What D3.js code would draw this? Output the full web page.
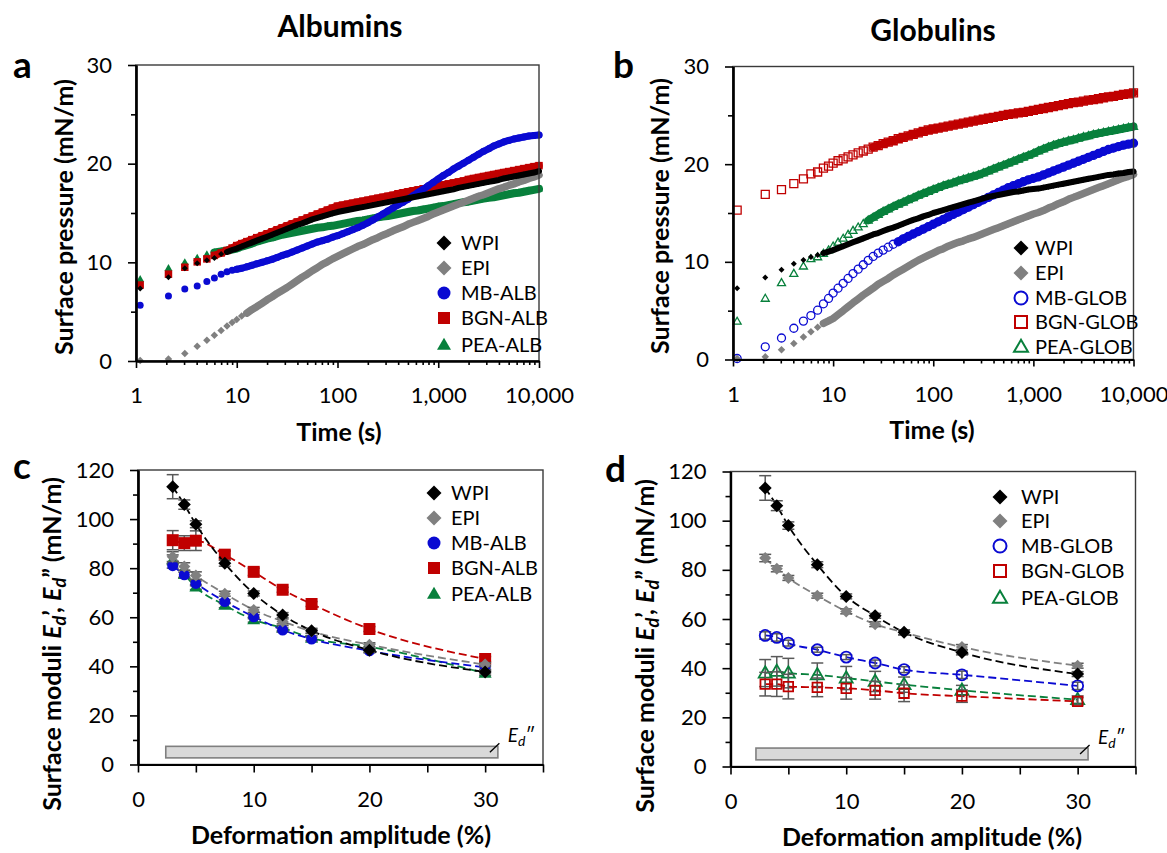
<!DOCTYPE html>
<html>
<head>
<meta charset="utf-8">
<script src="https://cdn.jsdelivr.net/npm/d3@7"></script>
<style>
  body { margin: 0; background: #fff; }
</style>
</head>
<body>
<svg id="fig" width="1167" height="853"></svg>
<script>
// ---- data ----

// adsorption time (s), shared by all runs in a and b
const timeS = [1.1, 2.1, 3.05, 4.05, 5.05, 6, 7, 8, 9,
  10, 11.2, 12.6, 14.1, 15.8, 17.8, 20, 22.4, 25.1, 28.2,
  31.6, 35.5, 39.8, 44.7, 50.1, 56.2, 63.1, 70.8, 79.4, 89.1,
  100, 112, 126, 141, 158, 178, 200, 224, 251, 282,
  316, 355, 398, 447, 501, 562, 631, 708, 794, 891,
  1000, 1122, 1259, 1413, 1585, 1778, 1995, 2239, 2512, 2818,
  3162, 3548, 3981, 4467, 5012, 5623, 6310, 7079, 7943, 8913, 10000];

// a: albumins, surface pressure (mN/m)
const wpiA = [7.35, 8.5, 9.4, 9.9, 10.2, 10.45, 10.85, 11.05, 11.25,
  11.4, 11.6, 11.8, 12.0, 12.2, 12.4, 12.6, 12.8, 13.0, 13.2,
  13.4, 13.6, 13.8, 13.95, 14.15, 14.35, 14.5, 14.65, 14.8, 14.95,
  15.1, 15.2, 15.3, 15.4, 15.5, 15.6, 15.7, 15.8, 15.9, 16.0,
  16.1, 16.2, 16.3, 16.4, 16.5, 16.6, 16.7, 16.8, 16.9, 17.0,
  17.1, 17.2, 17.3, 17.4, 17.55, 17.65, 17.75, 17.85, 17.95, 18.05,
  18.15, 18.25, 18.35, 18.5, 18.6, 18.7, 18.8, 18.9, 19.0, 19.1, 19.25];
const epiA = [0.05, 0.2, 0.75, 1.5, 2.1, 2.6, 3.1, 3.55, 3.9,
  4.2, 4.55, 4.85, 5.2, 5.5, 5.85, 6.2, 6.5, 6.85, 7.15,
  7.45, 7.8, 8.15, 8.5, 8.8, 9.15, 9.45, 9.8, 10.05, 10.35,
  10.6, 10.85, 11.1, 11.35, 11.6, 11.8, 12.05, 12.3, 12.5, 12.75,
  12.95, 13.2, 13.4, 13.6, 13.85, 14.05, 14.25, 14.45, 14.65, 14.9,
  15.1, 15.3, 15.5, 15.7, 15.9, 16.1, 16.3, 16.5, 16.7, 16.85,
  17.05, 17.25, 17.45, 17.6, 17.8, 17.95, 18.15, 18.3, 18.5, 18.65, 18.85];
const mbAlb = [5.65, 6.6, 7.3, 7.6, 8.05, 8.4, 8.8, 9.05, 9.2,
  9.3, 9.4, 9.55, 9.7, 9.85, 10.0, 10.15, 10.3, 10.5, 10.7,
  10.85, 11.05, 11.25, 11.45, 11.65, 11.85, 12.05, 12.2, 12.35, 12.55,
  12.7, 12.9, 13.1, 13.3, 13.5, 13.75, 14.0, 14.3, 14.6, 14.9,
  15.2, 15.5, 15.8, 16.1, 16.4, 16.75, 17.1, 17.4, 17.75, 18.1,
  18.45, 18.8, 19.1, 19.45, 19.75, 20.05, 20.35, 20.65, 20.95, 21.25,
  21.5, 21.8, 22.0, 22.2, 22.35, 22.5, 22.6, 22.7, 22.8, 22.85, 22.9];
const bgnAlb = [7.7, 8.8, 9.5, 10.05, 10.35, 10.7, 10.95, 11.2, 11.45,
  11.7, 11.9, 12.1, 12.3, 12.5, 12.7, 12.9, 13.1, 13.3, 13.5,
  13.7, 13.9, 14.1, 14.3, 14.5, 14.7, 14.9, 15.1, 15.3, 15.5,
  15.7, 15.8, 15.9, 16.0, 16.1, 16.2, 16.3, 16.4, 16.5, 16.6,
  16.7, 16.8, 16.95, 17.05, 17.15, 17.25, 17.35, 17.45, 17.55, 17.65,
  17.75, 17.85, 17.95, 18.05, 18.15, 18.25, 18.4, 18.5, 18.6, 18.7,
  18.8, 18.9, 19.0, 19.1, 19.2, 19.3, 19.4, 19.5, 19.6, 19.7, 19.8];
const peaAlb = [8.3, 9.4, 10.0, 10.45, 10.8, 11.0, 11.1, 11.2, 11.3,
  11.4, 11.6, 11.75, 11.9, 12.1, 12.25, 12.4, 12.5, 12.65, 12.8,
  12.9, 13.0, 13.1, 13.2, 13.3, 13.4, 13.5, 13.55, 13.65, 13.7,
  13.8, 13.9, 14.0, 14.1, 14.2, 14.25, 14.35, 14.45, 14.55, 14.65,
  14.7, 14.8, 14.9, 15.0, 15.1, 15.2, 15.25, 15.35, 15.45, 15.55,
  15.65, 15.7, 15.8, 15.9, 16.0, 16.1, 16.15, 16.25, 16.35, 16.45,
  16.55, 16.6, 16.7, 16.8, 16.9, 17.0, 17.05, 17.15, 17.25, 17.35, 17.45];

// b: globulins, surface pressure (mN/m)
const wpiB = [7.3, 8.4, 9.2, 9.8, 10.2, 10.5, 10.7, 10.9, 11.05,
  11.2, 11.4, 11.6, 11.8, 12.0, 12.2, 12.4, 12.6, 12.8, 12.95,
  13.15, 13.35, 13.5, 13.7, 13.9, 14.1, 14.3, 14.45, 14.65, 14.8,
  15.0, 15.15, 15.3, 15.45, 15.6, 15.75, 15.9, 16.05, 16.2, 16.35,
  16.5, 16.65, 16.75, 16.85, 16.95, 17.05, 17.15, 17.2, 17.3, 17.4,
  17.45, 17.5, 17.6, 17.7, 17.8, 17.9, 18.0, 18.1, 18.2, 18.3,
  18.4, 18.5, 18.6, 18.7, 18.8, 18.9, 18.95, 19.05, 19.1, 19.2, 19.25];
const epiB = [0.1, 0.27, 1.0, 1.64, 2.3, 2.83, 3.3, 3.7, 3.95,
  4.2, 4.6, 5.0, 5.4, 5.8, 6.2, 6.6, 6.95, 7.3, 7.7,
  8.0, 8.3, 8.65, 8.95, 9.25, 9.55, 9.85, 10.15, 10.4, 10.65,
  10.9, 11.15, 11.35, 11.6, 11.8, 12.0, 12.15, 12.35, 12.5, 12.7,
  12.9, 13.1, 13.3, 13.5, 13.7, 13.9, 14.1, 14.3, 14.5, 14.7,
  14.9, 15.05, 15.25, 15.5, 15.7, 15.95, 16.15, 16.4, 16.6, 16.8,
  17.0, 17.2, 17.4, 17.6, 17.8, 18.0, 18.2, 18.4, 18.6, 18.75, 18.95];
const mbGlob = [0.1, 1.3, 2.2, 3.2, 3.93, 4.5, 5.05, 5.7, 6.25,
  6.8, 7.3, 7.8, 8.3, 8.8, 9.25, 9.7, 10.15, 10.55, 10.9,
  11.2, 11.5, 11.8, 12.05, 12.35, 12.6, 12.85, 13.1, 13.35, 13.6,
  13.85, 14.1, 14.35, 14.6, 14.85, 15.1, 15.35, 15.6, 15.85, 16.1,
  16.35, 16.6, 16.85, 17.1, 17.35, 17.6, 17.8, 18.0, 18.2, 18.4,
  18.55, 18.7, 18.9, 19.1, 19.3, 19.5, 19.7, 19.9, 20.1, 20.3,
  20.5, 20.7, 20.9, 21.1, 21.3, 21.5, 21.65, 21.8, 21.95, 22.05, 22.15];
const bgnGlob = [15.3, 16.9, 17.4, 18.0, 18.5, 19.0, 19.2, 19.6, 19.8,
  20.1, 20.35, 20.55, 20.75, 20.95, 21.15, 21.35, 21.55, 21.75, 21.9,
  22.1, 22.25, 22.4, 22.6, 22.75, 22.9, 23.05, 23.2, 23.35, 23.5,
  23.6, 23.7, 23.8, 23.9, 24.0, 24.1, 24.2, 24.3, 24.4, 24.5,
  24.6, 24.7, 24.8, 24.9, 25.0, 25.1, 25.15, 25.25, 25.3, 25.4,
  25.5, 25.6, 25.7, 25.8, 25.9, 26.0, 26.1, 26.2, 26.3, 26.35,
  26.45, 26.55, 26.6, 26.7, 26.8, 26.9, 26.95, 27.05, 27.15, 27.2, 27.3];
const peaGlob = [3.9, 6.25, 7.85, 8.8, 9.55, 10.3, 10.5, 10.85, 11.2,
  11.6, 12.0, 12.4, 12.8, 13.2, 13.55, 13.9, 14.25, 14.55, 14.85,
  15.15, 15.4, 15.65, 15.9, 16.1, 16.35, 16.55, 16.8, 17.0, 17.2,
  17.4, 17.6, 17.8, 17.95, 18.1, 18.3, 18.45, 18.6, 18.75, 18.9,
  19.1, 19.3, 19.5, 19.7, 19.9, 20.1, 20.3, 20.5, 20.7, 20.9,
  21.1, 21.35, 21.55, 21.75, 21.95, 22.1, 22.25, 22.4, 22.5, 22.65,
  22.8, 22.9, 23.05, 23.15, 23.25, 23.35, 23.45, 23.55, 23.65, 23.75, 23.85];

// c, d: dilatational modulus vs deformation amplitude (%)
const ampPct = [3, 4, 5, 7.5, 10, 12.5, 15, 20, 30];

const wpiC = [113.2, 105.9, 97.9, 82.0, 69.7, 60.9, 54.5, 46.6, 37.7];
const epiC = [84.7, 80.7, 77.0, 69.6, 63.0, 58.3, 54.2, 48.8, 40.7];
const mbAlbC = [81.0, 77.3, 73.8, 66.4, 60.2, 54.8, 51.1, 46.3, 39.6];
const bgnAlbC = [91.4, 90.2, 91.2, 85.5, 78.5, 71.2, 65.4, 55.2, 43.0];
const peaAlbC = [83.4, 77.5, 72.3, 64.9, 59.0, 55.6, 51.5, 48.0, 37.2];
const wpiCErr = [4.9, 1.9, 1.4, 1.2, 1.0, 1.0, 1.0, 0.8, 0.8];
const epiCErr = [2.0, 1.5, 1.5, 1.0, 1.0, 1.0, 0.8, 0.8, 0.8];
const mbAlbCErr = [1.0, 1.0, 1.0, 0.8, 0.8, 0.8, 0.8, 0.8, 0.8];
const bgnAlbCErr = [3.9, 3.0, 4.0, 1.5, 1.5, 1.0, 1.0, 1.0, 1.0];
const peaAlbCErr = [2.0, 1.5, 1.0, 1.0, 1.0, 1.0, 1.0, 1.0, 1.0];

const wpiD = [113.3, 106.1, 98.0, 82.1, 69.2, 61.3, 54.6, 46.4, 37.6];
const epiD = [84.8, 80.4, 76.7, 69.5, 63.1, 57.9, 54.5, 48.6, 41.0];
const mbGlobD = [53.3, 52.5, 50.2, 47.5, 44.5, 42.1, 39.4, 37.3, 32.8];
const bgnGlobD = [33.5, 33.5, 32.5, 32.2, 31.8, 31.0, 29.8, 28.6, 26.5];
const peaGlobD = [38.0, 38.7, 38.0, 37.3, 36.0, 34.6, 33.3, 31.0, 27.2];
const wpiDErr = [5.0, 2.0, 1.5, 1.2, 1.0, 1.0, 1.0, 1.0, 1.0];
const epiDErr = [1.5, 1.2, 1.0, 1.0, 1.0, 1.0, 1.0, 1.0, 1.0];
const mbGlobDErr = [1.5, 1.5, 1.2, 1.0, 1.0, 1.2, 1.2, 1.5, 1.5];
const bgnGlobDErr = [4.8, 5.0, 5.0, 3.8, 4.4, 3.6, 3.4, 2.5, 1.5];
const peaGlobDErr = [5.5, 6.0, 6.0, 4.8, 4.7, 4.1, 3.1, 2.0, 1.5];

// loss modulus Ed'' band (amplitude range, modulus range)
const edBandCx = [2.4, 31.1], edBandCy = [2.7, 7.4];
const edBandDx = [2.2, 30.9], edBandDy = [2.7, 7.5];

// tick labels
const timeTicks = [1, 10, 100, 1000, 10000];
const pressTicks = [0, 10, 20, 30];
const modTicks = [0, 20, 40, 60, 80, 100, 120];
const ampTicks = [0, 5, 10, 15, 20, 25, 30, 35];

// ---- drawing ----
const FONT = 'Lato, "Open Sans", sans-serif';
const BLUE = "#0a0ad2", RED = "#c00000", GREEN = "#08803c", GREY = "#808080";
const svg = d3.select("#fig");

function markerPath(shape, s) {
  const h = s / 2;
  if (shape == "diamond") return `M0,${-h}L${h},0L0,${h}L${-h},0Z`;
  if (shape == "square") return `M${-h},${-h}H${h}V${h}H${-h}Z`;
  if (shape == "triangle") {
    const t = s * 0.87;
    return `M0,${-t * 0.6}L${h},${t * 0.4}L${-h},${t * 0.4}Z`;
  }
  return `M${h},0A${h},${h} 0 1,1 ${-h},0A${h},${h} 0 1,1 ${h},0Z`;
}

function drawMarkers(g, pts, st, size) {
  g.append("g").selectAll("path").data(pts).join("path")
    .attr("transform", d => `translate(${d[0]},${d[1]})`)
    .attr("d", markerPath(st.shape, size))
    .attr("fill", st.hollow ? "none" : st.color)
    .attr("stroke", st.hollow ? st.color : "none")
    .attr("stroke-width", st.hollow ? st.sw : 0);
}

// frame, ticks and tick labels of one panel
function drawAxes(box, x, y, o) {
  const g = svg.append("g");
  g.append("rect")
    .attr("x", box.left).attr("y", box.top)
    .attr("width", box.right - box.left).attr("height", box.bottom - box.top)
    .attr("fill", "none").attr("stroke", "#3a3a3a").attr("stroke-width", 1.4);

  g.append("g").attr("transform", `translate(${box.left},0)`)
    .call(d3.axisLeft(y).tickValues(o.yMinor).tickSize(5).tickSizeOuter(0).tickFormat(""));
  g.append("g").attr("transform", `translate(${box.left},0)`)
    .call(d3.axisLeft(y).tickValues(o.yMajor).tickSize(8).tickPadding(16).tickSizeOuter(0));

  if (o.xMinor) {
    g.append("g").attr("transform", `translate(0,${box.bottom})`)
      .call(d3.axisBottom(x).tickValues(o.xMinor).tickSize(4).tickSizeOuter(0).tickFormat(""));
  }
  g.append("g").attr("transform", `translate(0,${box.bottom})`)
    .call(d3.axisBottom(x).tickValues(o.xMajor).tickSize(o.xTick).tickPadding(26.4 - o.xTick)
      .tickSizeOuter(0).tickFormat(o.xFormat));

  g.selectAll(".domain").attr("stroke", "#000").attr("stroke-width", 2.2);
  g.selectAll(".tick line").attr("stroke", "#000").attr("stroke-width", 1.6);
  g.selectAll(".tick text").attr("font-family", FONT).attr("font-size", 22).attr("fill", "#000");
  return g;
}

function drawLegend(entries, mx, tx, rows, sizes) {
  const g = svg.append("g");
  entries.forEach((st, i) => {
    drawMarkers(g, [[mx, rows[i]]], Object.assign({}, st, {sw: 2}), sizes[st.shape]);
    g.append("text").attr("x", tx).attr("y", rows[i] + 7)
      .attr("font-family", FONT).attr("font-size", 20).text(st.name);
  });
}

function yTitle(x, y, build) {
  const t = svg.append("text")
    .attr("transform", `translate(${x},${y}) rotate(-90)`)
    .attr("text-anchor", "middle").attr("font-family", FONT)
    .attr("font-size", 25).attr("font-weight", "bold");
  build(t);
}

function plainLabel(x, y, txt, size, anchor) {
  svg.append("text").attr("x", x).attr("y", y)
    .attr("text-anchor", anchor || "middle").attr("font-family", FONT)
    .attr("font-size", size).attr("font-weight", "bold").text(txt);
}

function logMinor() {
  const m = [];
  [1, 10, 100, 1000].forEach(dec => { for (let k = 2; k < 10; k++) m.push(dec * k); });
  return m;
}

// ---- panels a and b: surface pressure vs time ----
function pressurePanel(box, series, legendX, legendTX, legendRows) {
  const x = d3.scaleLog().domain([1, 10000]).range([box.left, box.right]);
  const y = d3.scaleLinear().domain([0, 30]).range([box.bottom, box.top]);
  const g = svg.append("g");
  const trace = d3.line().x(d => x(d[0])).y(d => y(d[1]));
  // draw last legend entry first so WPI ends up on top
  series.slice().reverse().forEach(s => {
    const rows = d3.zip(timeS, s.y);
    // where the logger samples pile up, the symbols merge into one thick band
    g.append("path").datum(rows.filter(d => d[0] >= s.denseFrom)).attr("d", trace)
      .attr("fill", "none").attr("stroke", s.color).attr("stroke-width", s.size)
      .attr("stroke-linecap", "round").attr("stroke-linejoin", "round");
    drawMarkers(g, rows.map(d => [x(d[0]), y(d[1])]), s, s.size);
  });
  drawAxes(box, x, y, {
    yMajor: pressTicks, yMinor: [5, 15, 25],
    xMajor: timeTicks, xMinor: logMinor(), xTick: 7, xFormat: d3.format(",")
  });
  drawLegend(series, legendX, legendTX, legendRows,
    {diamond: 15, circle: 13, square: 12, triangle: 14});
}

const boxA = {left: 136, right: 539, top: 65, bottom: 361};
const boxB = {left: 733, right: 1133.5, top: 66.5, bottom: 359.5};

pressurePanel(boxA, [
  {name: "WPI", y: wpiA, shape: "diamond", color: "#000", size: 6, denseFrom: 8},
  {name: "EPI", y: epiA, shape: "diamond", color: GREY, size: 7.5, denseFrom: 12},
  {name: "MB-ALB", y: mbAlb, shape: "circle", color: BLUE, size: 7, denseFrom: 10},
  {name: "BGN-ALB", y: bgnAlb, shape: "square", color: RED, size: 7.5, denseFrom: 6},
  {name: "PEA-ALB", y: peaAlb, shape: "triangle", color: GREEN, size: 8, denseFrom: 6}
], 444, 461, [243, 268, 293, 318, 345]);

pressurePanel(boxB, [
  {name: "WPI", y: wpiB, shape: "diamond", color: "#000", size: 6, denseFrom: 8},
  {name: "EPI", y: epiB, shape: "diamond", color: GREY, size: 7.5, denseFrom: 8},
  {name: "MB-GLOB", y: mbGlob, shape: "circle", color: BLUE, size: 8, hollow: true, sw: 1.3, denseFrom: 40},
  {name: "BGN-GLOB", y: bgnGlob, shape: "square", color: RED, size: 8, hollow: true, sw: 1.3, denseFrom: 25},
  {name: "PEA-GLOB", y: peaGlob, shape: "triangle", color: GREEN, size: 8, hollow: true, sw: 1.3, denseFrom: 22}
], 1021, 1035, [248, 273, 298, 322, 347]);

// ---- panels c and d: moduli vs amplitude ----
function modulusPanel(box, series, bandX, bandY, legendX, legendTX, legendRows, legendSizes) {
  const x = d3.scaleLinear().domain([0, 35]).range([box.left, box.right]);
  const y = d3.scaleLinear().domain([0, 120]).range([box.bottom, box.top]);
  const g = svg.append("g");

  // Ed'' band with its leader
  g.append("rect")
    .attr("x", x(bandX[0])).attr("y", y(bandY[1]))
    .attr("width", x(bandX[1]) - x(bandX[0])).attr("height", y(bandY[0]) - y(bandY[1]))
    .attr("fill", "#d9d9d9").attr("stroke", "#7f7f7f").attr("stroke-width", 1.6);
  const ex = x(bandX[1]), ey = y(bandY[1]);
  g.append("line").attr("x1", ex - 8).attr("y1", ey + 6).attr("x2", ex + 1.5).attr("y2", ey - 3)
    .attr("stroke", "#000").attr("stroke-width", 1.3);
  const et = g.append("text").attr("x", ex + 10).attr("y", ey - 4)
    .attr("font-family", FONT).attr("font-size", 19);
  et.append("tspan").attr("font-style", "italic").text("E");
  et.append("tspan").attr("font-style", "italic").attr("font-size", 14).attr("dy", 4).text("d");
  et.append("tspan").attr("dy", -4).text("\u2033");

  const line = d3.line().curve(d3.curveMonotoneX).x(d => x(d[0])).y(d => y(d[1]));
  series.slice().reverse().forEach(s => {
    const rows = d3.zip(ampPct, s.y, s.err);
    g.append("path").datum(rows).attr("d", line)
      .attr("fill", "none").attr("stroke", s.color).attr("stroke-width", 1.8)
      .attr("stroke-dasharray", "8,4");
    const eb = g.append("g").attr("stroke", "#595959").attr("stroke-width", 1.5);
    rows.forEach(r => {
      const cx = x(r[0]), y1 = y(r[1] + r[2]), y2 = y(r[1] - r[2]);
      eb.append("line").attr("x1", cx).attr("x2", cx).attr("y1", y1).attr("y2", y2);
      eb.append("line").attr("x1", cx - 6).attr("x2", cx + 6).attr("y1", y1).attr("y2", y1);
      eb.append("line").attr("x1", cx - 6).attr("x2", cx + 6).attr("y1", y2).attr("y2", y2);
    });
    drawMarkers(g, rows.map(r => [x(r[0]), y(r[1])]), s, s.size);
  });

  drawAxes(box, x, y, {
    yMajor: modTicks, yMinor: [10, 30, 50, 70, 90, 110],
    xMajor: ampTicks, xTick: 8, xFormat: d => (d % 10 == 0 ? d : "")
  });
  drawLegend(series, legendX, legendTX, legendRows, legendSizes);
}

const boxC = {left: 138, right: 543, top: 470, bottom: 764.5};
const boxD = {left: 730.5, right: 1135.5, top: 471.5, bottom: 766.5};

modulusPanel(boxC, [
  {name: "WPI", y: wpiC, err: wpiCErr, shape: "diamond", color: "#000", size: 13},
  {name: "EPI", y: epiC, err: epiCErr, shape: "diamond", color: GREY, size: 12},
  {name: "MB-ALB", y: mbAlbC, err: mbAlbCErr, shape: "circle", color: BLUE, size: 11},
  {name: "BGN-ALB", y: bgnAlbC, err: bgnAlbCErr, shape: "square", color: RED, size: 12},
  {name: "PEA-ALB", y: peaAlbC, err: peaAlbCErr, shape: "triangle", color: GREEN, size: 13}
], edBandCx, edBandCy, 434, 451, [493, 518, 543, 568, 594],
  {diamond: 15, circle: 13, square: 12, triangle: 14});

modulusPanel(boxD, [
  {name: "WPI", y: wpiD, err: wpiDErr, shape: "diamond", color: "#000", size: 13},
  {name: "EPI", y: epiD, err: epiDErr, shape: "diamond", color: GREY, size: 12},
  {name: "MB-GLOB", y: mbGlobD, err: mbGlobDErr, shape: "circle", color: BLUE, size: 11, hollow: true, sw: 1.8},
  {name: "BGN-GLOB", y: bgnGlobD, err: bgnGlobDErr, shape: "square", color: RED, size: 9.5, hollow: true, sw: 1.8},
  {name: "PEA-GLOB", y: peaGlobD, err: peaGlobDErr, shape: "triangle", color: GREEN, size: 13, hollow: true, sw: 1.8}
], edBandDx, edBandDy, 1000, 1021, [497, 521, 546, 571, 598],
  {diamond: 15, circle: 13, square: 12, triangle: 14});

// ---- titles and axis labels ----
plainLabel(340, 37, "Albumins", 30);
plainLabel(933, 41, "Globulins", 30);
plainLabel(13, 78, "a", 37, "start");
plainLabel(613, 78, "b", 37, "start");
plainLabel(13, 479, "c", 37, "start");
plainLabel(605, 482, "d", 37, "start");
plainLabel(339, 441, "Time (s)", 25);
plainLabel(932, 439, "Time (s)", 25);
plainLabel(341, 844, "Deformation amplitude (%)", 25);
plainLabel(932, 846, "Deformation amplitude (%)", 25);

yTitle(73, 217, t => t.text("Surface pressure (mN/m)"));
yTitle(669, 216, t => t.text("Surface pressure (mN/m)"));

function moduliTitle(t) {
  t.append("tspan").text("Surface moduli ");
  t.append("tspan").attr("font-style", "italic").text("E");
  t.append("tspan").attr("font-style", "italic").attr("font-size", 18).attr("dy", 5).text("d");
  t.append("tspan").attr("dy", -5).text("\u2019, ");
  t.append("tspan").attr("font-style", "italic").text("E");
  t.append("tspan").attr("font-style", "italic").attr("font-size", 18).attr("dy", 5).text("d");
  t.append("tspan").attr("dy", -5).text("\u201d (mN/m)");
}
yTitle(61, 644, moduliTitle);
yTitle(654, 646, moduliTitle);
</script>
</body>
</html>
